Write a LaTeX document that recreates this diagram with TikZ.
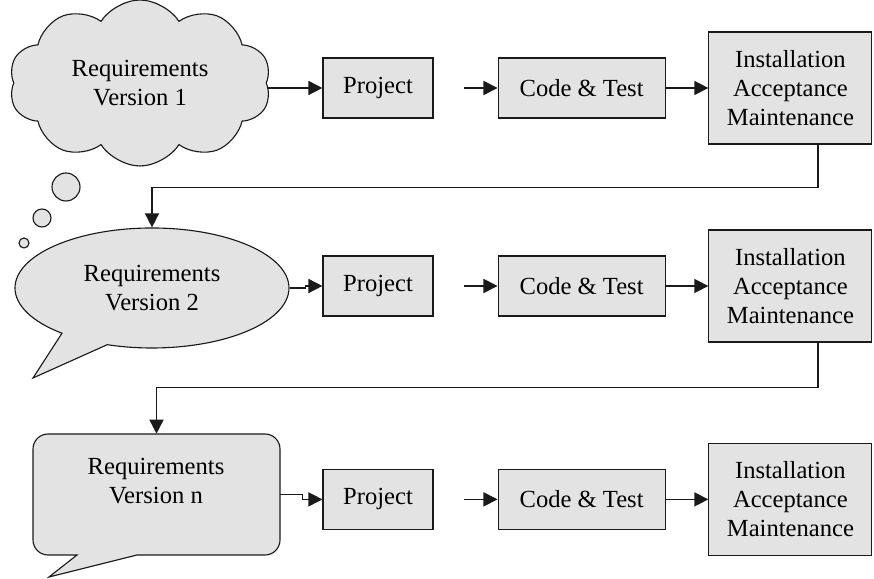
\documentclass[tikz,border=0pt]{standalone}
\usepackage{fontspec}
\setmainfont{Liberation Serif}
\usepackage{xcolor}
\usetikzlibrary{arrows.meta, shapes.symbols, shapes.callouts}
\definecolor{boxgray}{HTML}{E3E3E3}
\definecolor{inkline}{HTML}{1A1A1A}

\begin{document}
\begin{tikzpicture}[>={Triangle[length=10pt,width=10pt]},
  font=\fontsize{17.5}{20.5}\selectfont,
  stage/.style={draw=inkline, fill=boxgray, line width=0.8pt, align=center, inner sep=0pt},
  bubble/.style={draw=inkline, fill=boxgray, line width=0.8pt, align=center},
  flow/.style={->, draw=inkline, line width=1.1pt}]
  \useasboundingbox (0,0) rectangle (21.85,14.475);

  \node[bubble, cloud, cloud puffs=10, cloud puff arc=115, aspect=1.6, minimum width=6.55cm, minimum height=4.15cm]
    (req1) at (3.5,12.4) {Requirements\\Version 1};
  \filldraw[bubble] (1.65,9.8) circle (0.35);
  \filldraw[bubble] (1.05,9.025) circle (0.225);
  \filldraw[bubble] (0.6,8.4) circle (0.125);

  \node[bubble, ellipse callout, callout absolute pointer={(0.825,5.025)}, callout pointer arc=22,
    minimum width=6.85cm, minimum height=3cm] (req2) at (3.8,7.275) {Requirements\\Version 2};

  \draw[bubble] (0.825,3.25) -- (0.825,0.975) arc (180:270:0.375) -- (1.925,0.6) -- (1.225,0.05)
    -- (3.425,0.6) -- (6.625,0.6) arc (270:360:0.375) -- (7.0,3.25) arc (0:90:0.375)
    -- (1.2,3.625) arc (90:180:0.375) -- cycle;
  \node[minimum width=6.175cm, minimum height=3.025cm, inner sep=0pt] (reqn) at (3.9125,2.1125) {};
  \node[align=center] (reqntext) at (3.9,2.45) {Requirements\\Version n};

  \node[stage, minimum width=2.75cm, minimum height=1.5cm] (proj1) at (9.45,12.275) {Project};
  \node[stage, minimum width=4.175cm, minimum height=1.5cm] (code1) at (14.54,12.275) {Code \& Test};
  \node[stage, minimum width=4.075cm, minimum height=2.8cm] (inst1) at (19.76,12.275)
    {Installation\\Acceptance\\Maintenance};

  \node[stage, minimum width=2.75cm, minimum height=1.5cm] (proj2) at (9.45,7.325) {Project};
  \node[stage, minimum width=4.175cm, minimum height=1.5cm] (code2) at (14.54,7.325) {Code \& Test};
  \node[stage, minimum width=4.075cm, minimum height=2.8cm] (inst2) at (19.76,7.325)
    {Installation\\Acceptance\\Maintenance};

  \node[stage, minimum width=2.75cm, minimum height=1.5cm] (proj3) at (9.45,1.99) {Project};
  \node[stage, minimum width=4.175cm, minimum height=1.5cm] (code3) at (14.54,1.99) {Code \& Test};
  \node[stage, minimum width=4.075cm, minimum height=2.8cm] (inst3) at (19.76,1.99)
    {Installation\\Acceptance\\Maintenance};

  \draw[flow] (req1.east |- proj1.west) -- (proj1.west);
  \draw[flow, shorten <=0.75cm] (proj1.east) -- (code1.west);
  \draw[flow] (code1.east) -- (inst1.west);
  \draw[flow] ([xshift=0.6875cm]inst1.south) -- ++(0,-1.075) -| (req2.north);

  \draw[flow] (req2.east) -- ++(0.4,0) |- (proj2.west);
  \draw[flow, shorten <=0.75cm] (proj2.east) -- (code2.west);
  \draw[flow] (code2.east) -- (inst2.west);
  \draw[flow] ([xshift=0.6875cm]inst2.south) -- ++(0,-1.125) -| (reqn.north);

  \draw[flow] (reqn.east) -- ++(0.55,0) |- (proj3.west);
  \draw[flow, shorten <=0.75cm] (proj3.east) -- (code3.west);
  \draw[flow] (code3.east) -- (inst3.west);
\end{tikzpicture}
\end{document}
